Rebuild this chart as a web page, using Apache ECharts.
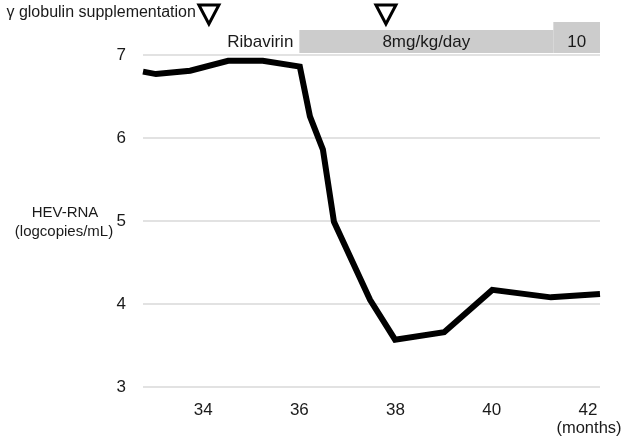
<!DOCTYPE html>
<html>
<head>
<meta charset="utf-8">
<script src="https://cdn.jsdelivr.net/npm/echarts@6/dist/echarts.min.js"></script>
<style>
html,body{margin:0;padding:0;background:#fff;}
#c{width:630px;height:443px;}
</style>
</head>
<body>
<div id="c"></div>
<script>
// Data
var months = [32.75, 33.02, 33.73, 34.52, 35.24, 36.01, 36.22, 36.49, 36.72, 37.47, 37.99, 39.01, 40.01, 41.23, 42.25];
var hevRna = [6.80, 6.77, 6.81, 6.93, 6.93, 6.86, 6.26, 5.86, 4.99, 4.05, 3.57, 3.66, 4.17, 4.08, 4.12];
var xTicks = [34, 36, 38, 40, 42];
var yTicks = [3, 4, 5, 6, 7];
// Ribavirin periods: [start, end, dose, label]
var ribaStart = [36.0, 41.28];
var ribaEnd = [41.28, 42.25];
var ribaDose = [8, 10];
var ribaLabel = ['8mg/kg/day', '10'];
// gamma globulin supplementation times
var gammaTimes = [34.12, 37.8];

var FONT = '"Liberation Sans", Arial, sans-serif';
var TXT = '#1a1a1a';
var XMIN = 32.75, XMAX = 42.25;

var chart = echarts.init(document.getElementById('c'), null, {renderer: 'canvas'});

var ribaData = ribaStart.map(function (s, i) { return [s, ribaEnd[i], ribaDose[i], ribaLabel[i]]; });
var gammaData = gammaTimes.map(function (t) { return [t, 0]; });

chart.setOption({
  animation: false,
  backgroundColor: '#fff',
  grid: [
    {left: 143, right: 30, top: 55, bottom: 56},
    {left: 143, right: 30, top: 0, height: 53}
  ],
  xAxis: [
    {
      type: 'value', gridIndex: 0, min: XMIN, max: XMAX,
      axisLine: {show: false}, axisTick: {show: false}, splitLine: {show: false},
      axisLabel: {customValues: xTicks, color: TXT, fontSize: 17, fontFamily: FONT, margin: 15}
    },
    {
      type: 'value', gridIndex: 1, min: XMIN, max: XMAX, show: false
    }
  ],
  yAxis: [
    {
      type: 'value', gridIndex: 0, min: yTicks[0], max: yTicks[yTicks.length - 1], interval: 1,
      axisLine: {show: false}, axisTick: {show: false},
      splitLine: {show: true, lineStyle: {color: '#d9d9d9', width: 1.5}},
      axisLabel: {color: TXT, fontSize: 17, fontFamily: FONT, margin: 17}
    },
    {
      type: 'value', gridIndex: 1, min: 0, max: 1, show: false
    }
  ],
  series: [
    {
      type: 'line', xAxisIndex: 0, yAxisIndex: 0,
      data: months.map(function (m, i) { return [m, hevRna[i]]; }),
      symbol: 'none',
      lineStyle: {color: '#000', width: 6, join: 'miter'},
      clip: false,
      z: 5
    },
    {
      type: 'custom', xAxisIndex: 1, yAxisIndex: 1,
      data: ribaData,
      clip: false,
      renderItem: function (params, api) {
        var x0 = api.coord([api.value(0), 0])[0];
        var x1 = api.coord([api.value(1), 0])[0];
        var cs = params.coordSys;
        var bottom = cs.y + cs.height;
        var h = api.value(2) >= 10 ? 31 : 23;
        var children = [
          {type: 'rect', shape: {x: x0, y: bottom - h, width: x1 - x0, height: h}, style: {fill: '#cccccc'}},
          {type: 'text', style: {x: (x0 + x1) / 2, y: bottom - 11, text: api.value(3), fill: TXT, font: '17px ' + FONT, align: 'center', verticalAlign: 'middle'}}
        ];
        if (params.dataIndex === 0) {
          children.push({type: 'text', style: {x: x0 - 6, y: bottom - 11, text: 'Ribavirin', fill: TXT, font: '17px ' + FONT, align: 'right', verticalAlign: 'middle'}});
        }
        return {type: 'group', children: children};
      }
    },
    {
      type: 'custom', xAxisIndex: 1, yAxisIndex: 1,
      data: gammaData,
      clip: false,
      renderItem: function (params, api) {
        var x = api.coord([api.value(0), 0])[0];
        var cy = 14;
        var children = [
          {type: 'polygon', shape: {points: [[x - 10, cy - 9], [x + 10, cy - 9], [x, cy + 10]]},
           style: {fill: '#fff', stroke: '#000', lineWidth: 3, lineJoin: 'miter'}}
        ];
        if (params.dataIndex === 0) {
          children.push({type: 'text', style: {x: x - 13, y: cy - 1, text: 'γ globulin supplementation', fill: TXT, font: '16px ' + FONT, align: 'right', verticalAlign: 'middle'}});
        }
        return {type: 'group', children: children};
      }
    }
  ],
  graphic: [
    {type: 'text', style: {x: 65, y: 213, text: 'HEV-RNA', fill: TXT, font: '15px ' + FONT, align: 'center', verticalAlign: 'middle'}},
    {type: 'text', style: {x: 64, y: 232, text: '(logcopies/mL)', fill: TXT, font: '15px ' + FONT, align: 'center', verticalAlign: 'middle'}},
    {type: 'text', style: {x: 589, y: 428, text: '(months)', fill: TXT, font: '16.5px ' + FONT, align: 'center', verticalAlign: 'middle'}}
  ]
});
</script>
</body>
</html>
